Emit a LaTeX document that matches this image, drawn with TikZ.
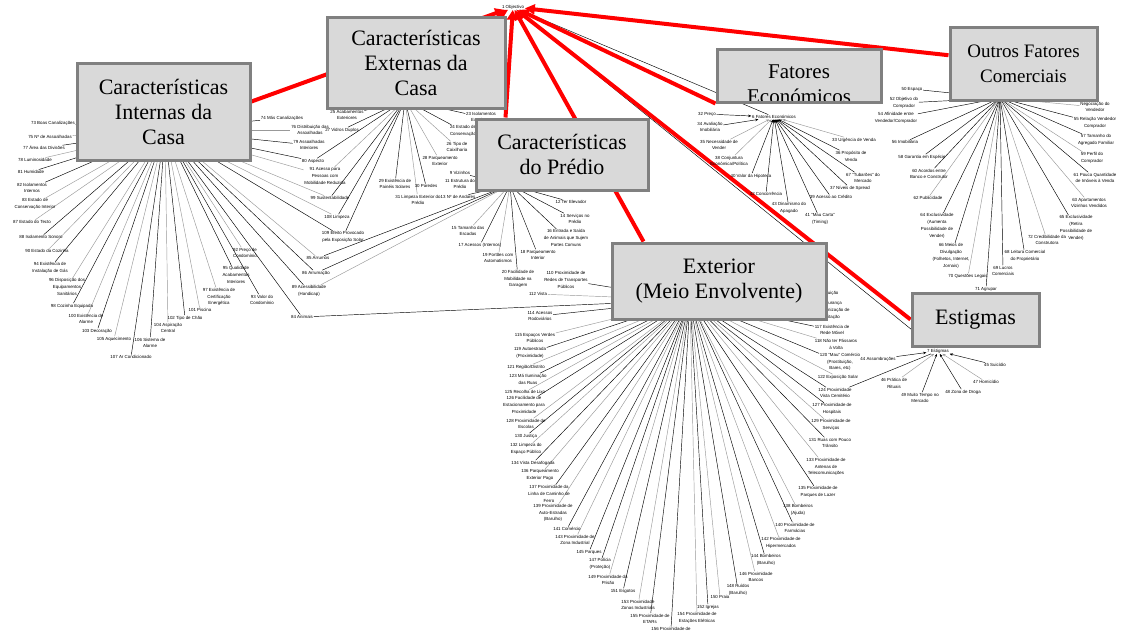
\documentclass[tikz,border=0pt]{standalone}
\usepackage{fontspec}
\setmainfont{Liberation Serif}
\newfontfamily\labfont{Liberation Sans}
\usetikzlibrary{arrows.meta,backgrounds}
\newcommand{\lbl}[6]{\node[lab] (#1) at (#2,#3) {#4};\begin{pgfonlayer}{background}\draw[#6] (#5) -- (#1);\end{pgfonlayer}}
\newcommand{\lk}[3]{\begin{pgfonlayer}{background}\draw[#3] (#1) -- (#2);\end{pgfonlayer}}
\begin{document}
\begin{tikzpicture}[x=1pt,y=-1pt,
 lab/.style={font=\labfont\fontsize{4.4}{6.8}\selectfont,align=center,inner sep=0.6pt},
 cb/.style={black,line width=0.45pt},
 cg/.style={black!40,line width=0.45pt},
 cba/.style={cb,{Stealth[length=3.2pt,width=2.6pt]}-},
 cga/.style={cg,{Stealth[length=3.2pt,width=2.6pt]}-},
 box/.style={draw=black!50,fill=black!15,line width=3pt,inner sep=0pt,align=center,font=\fontsize{22}{25}\selectfont},
 redl/.style={red,line width=4pt,-{Triangle[length=10pt,width=10pt]}},
]
\useasboundingbox (0,0) rectangle (1125,633);
\begin{pgfonlayer}{background}
\fill[white] (0,0) rectangle (1125,633);
\end{pgfonlayer}

% hubs
\node[lab] (O) at (513,7) {1 Objectivo};
\coordinate (HI) at (165,130);
\coordinate (HE) at (405,100);
\coordinate (HP) at (510,185);
\coordinate (HX) at (690,300);
\coordinate (HO) at (1000,98);
\node[lab] (HF) at (774,117) {6 Fatores Económicos};
\node[lab] (S) at (938,351) {7 Estigmas};

% Caracteristicas internas
\lbl{L73}{53}{123}{73 Boas Canalizações}{HI}{cb}
\lbl{L75}{50}{137}{75 Nº de Assoalhadas}{HI}{cg}
\lbl{L77}{44}{148}{77 Área das Divisões}{HI}{cb}
\lbl{L78}{35}{160}{78 Luminosidade}{HI}{cg}
\lbl{L81}{31}{172}{81 Humidade}{HI}{cb}
\lbl{L82}{32}{188}{82 Isolamentos\\Internos}{HI}{cb}
\lbl{L83}{35}{204}{83 Estado de\\Conservação Interior}{HI}{cg}
\lbl{L87}{32}{222}{87 Estado do Tecto}{HI}{cg}
\lbl{L88}{41}{237}{88 Isolamento Sonoro}{HI}{cb}
\lbl{L90}{47}{251}{90 Estado da Cozinha}{HI}{cg}
\lbl{L94}{50}{268}{94 Existência de\\Instalação de Gás}{HI}{cb}
\lbl{L96}{67}{287}{96 Disposição dos\\Equipamentos\\Sanitários}{HI}{cg}
\lbl{L98}{72}{306}{98 Cozinha Equipada}{HI}{cb}
\lbl{L100}{86}{319}{100 Existência de\\Alarme}{HI}{cg}
\lbl{L103}{97}{331}{103 Decoração}{HI}{cb}
\lbl{L105}{114}{339}{105 Aquecimento}{HI}{cg}
\lbl{L107}{131}{357}{107 Ar Condicionado}{HI}{cb}
\lbl{L106}{150}{343}{106 Sistema de\\Alarme}{HI}{cb}
\lbl{L104}{168}{328}{104 Aspiração\\Central}{HI}{cg}
\lbl{L102}{185}{318}{102 Tipo de Chão}{HI}{cb}
\lbl{L101}{200}{310}{101 Piscina}{HI}{cg}
\lbl{L97}{219}{297}{97 Existência de\\Certificação\\Energética}{HI}{cg}
\lbl{L95}{236}{275}{95 Qualidade\\Acabamentos\\Interiores}{HI}{cb}
\lbl{L92}{245}{253}{92 Preço de\\Condomínio}{HI}{cg}
\lbl{L93}{262}{300}{93 Valor do\\Condomínio}{HI}{cb}
\lbl{L74}{282}{118}{74 Más Canalizações}{HI}{cb}
\lbl{L76}{310}{130}{76 Distribuição das\\Assoalhadas}{HI}{cg}
\lbl{L79}{309}{145}{79 Assoalhadas\\Interiores}{HI}{cb}
\lbl{L80}{313}{161}{80 Aspecto}{HI}{cb}
\lbl{L91}{325}{176}{91 Acesso para\\Pessoas com\\Mobilidade Reduzida}{HI}{cg}
\lbl{L99}{330}{198}{99 Sustentabilidade}{HI}{cg}
\lbl{L108}{337}{217}{108 Limpeza}{HI}{cg}
\lbl{L109}{343}{237}{109 Efeito Provocado\\pela Exposição Solar}{HI}{cb}
\lbl{L85}{318}{258}{85 Arrumos}{HI}{cg}
\lbl{L86}{316}{273}{86 Arrumação}{HI}{cb}
\lbl{L89}{309}{291}{89 Acessibilidade\\(Handicap)}{HI}{cb}
\lbl{L84}{302}{317}{84 Animais}{HI}{cb}

% Caracteristicas externas
\lbl{L25}{347}{115}{25 Acabamentos\\Exteriores}{HE}{cb}
\lbl{L27}{342}{130}{27 Vidros Duplos}{HE}{cb}
\lbl{L29}{395}{184}{29 Existência de\\Painéis Solares}{HE}{cb}
\lbl{L30}{426}{186}{30 Paredes}{HE}{cb}
\lbl{L31}{418}{200}{31 Limpeza Exterior do\\Prédio}{HE}{cg}
\lbl{L28}{440}{161}{28 Parqueamento\\Exterior}{HE}{cg}
\lbl{L26}{457}{147}{26 Tipo de\\Caixilharia}{HE}{cg}
\lbl{L24}{463}{131}{24 Estado de\\Conservação}{HE}{cb}
\lbl{L23}{481}{117}{23 Isolamentos\\Exteriores}{HE}{cb}
\lk{HE}{L80}{cb}
\lk{HE}{L91}{cg}
\lk{HE}{L99}{cb}
\lk{HE}{L108}{cb}
\lk{HE}{L109}{cb}

% Caracteristicas do predio
\lbl{L9}{460}{173}{9 Vizinhos}{HP}{cb}
\lbl{L11}{460}{184}{11 Estrutura do\\Prédio}{HP}{cb}
\lbl{L13}{458}{197}{13 Nº de Andares}{HP}{cb}
\lbl{L12}{571}{202}{12 Ter Elevador}{HP}{cb}
\lbl{L14}{575}{219}{14 Serviços no\\Prédio}{HP}{cb}
\lbl{L16}{566}{238}{16 Entrada e Saída\\de Animais que Sujem\\Partes Comuns}{HP}{cb}
\lbl{L15}{468}{231}{15 Tamanho das\\Escadas}{HP}{cg}
\lbl{L17}{480}{245}{17 Acessos (Internos)}{HP}{cb}
\lbl{L19}{498}{258}{19 Portões com\\Automatismos}{HP}{cg}
\lbl{L18}{538}{255}{18 Parqueamento\\Interior}{HP}{cb}
\lbl{L20}{518}{279}{20 Facilidade de\\Mobilidade na\\Garagem}{HP}{cb}
\lk{HP}{L85}{cb}
\lk{HP}{L86}{cb}
\lk{HP}{L89}{cg}

% Exterior
\lbl{L110}{566}{280}{110 Proximidade de\\Redes de Transportes\\Públicos}{HX}{cb}
\lbl{L112}{538}{294}{112 Vista}{HX}{cg}
\lk{HX}{L84}{cb}
\lbl{L114}{540}{316}{114 Acessos\\Rodoviários}{HX}{cb}
\lbl{L115}{535}{338}{115 Espaços Verdes\\Públicos}{HX}{cg}
\lbl{L119}{530}{353}{119 Autoestrada\\(Proximidade)}{HX}{cb}
\lbl{L121}{526}{367}{121 Região/Distrito}{HX}{cg}
\lbl{L123}{528}{379}{123 Má Iluminação\\das Ruas}{HX}{cb}
\lbl{L125}{525}{392}{125 Recolha de Lixo}{HX}{cg}
\lbl{L126}{524}{405}{126 Facilidade de\\Estacionamento para\\Proximidade}{HX}{cb}
\lbl{L128}{526}{424}{128 Proximidade de\\Escolas}{HX}{cg}
\lbl{L130}{526}{436}{130 Justiça}{HX}{cb}
\lbl{L132}{526}{449}{132 Limpeza do\\Espaço Público}{HX}{cg}
\lbl{L134}{533}{463}{134 Vista Desafogada}{HX}{cb}
\lbl{L136}{540}{475}{136 Parqueamento\\Exterior Pago}{HX}{cg}
\lbl{L137}{549}{494}{137 Proximidade da\\Linha de Caminho de\\Ferro}{HX}{cb}
\lbl{L139}{553}{513}{139 Proximidade de\\Auto-Estradas\\(Barulho)}{HX}{cg}
\lbl{L141}{567}{529}{141 Comércio}{HX}{cb}
\lbl{L143}{575}{540}{143 Proximidade de\\Zona Industrial}{HX}{cg}
\lbl{L145}{589}{552}{145 Parques}{HX}{cb}
\lbl{L147}{600}{564}{147 Polícia\\(Proteção)}{HX}{cb}
\lbl{L149}{608}{580}{149 Proximidade da\\Prisão}{HX}{cg}
\lbl{L151}{623}{591}{151 Esgotos}{HX}{cb}
\lbl{L153}{638}{605}{153 Proximidade\\Zonas Industriais}{HX}{cg}
\lbl{L155}{650}{619}{155 Proximidade de\\ETARs}{HX}{cb}
\lbl{L156}{671}{629}{156 Proximidade de}{HX}{cb}
\lbl{L154}{697}{618}{154 Proximidade de\\Estações Elétricas}{HX}{cg}
\lbl{L152}{708}{607}{152 Igrejas}{HX}{cb}
\lbl{L150}{720}{597}{150 Praia}{HX}{cg}
\lbl{L148}{738}{590}{148 Ruídos\\(Barulho)}{HX}{cb}
\lbl{L146}{756}{577}{146 Proximidade\\Bancos}{HX}{cg}
\lbl{L144}{766}{560}{144 Bombeiros\\(Barulho)}{HX}{cb}
\lbl{L142}{781}{543}{142 Proximidade de\\Hipermercados}{HX}{cg}
\lbl{L140}{795}{528}{140 Proximidade de\\Farmácias}{HX}{cb}
\lbl{L138}{798}{510}{138 Bombeiros\\(Ajuda)}{HX}{cg}
\lbl{L135}{818}{492}{135 Proximidade de\\Parques de Lazer}{HX}{cb}
\lbl{L133}{826}{467}{133 Proximidade de\\Antenas de\\Telecomunicações}{HX}{cg}
\lbl{L131}{830}{443}{131 Ruas com Pouco\\Trânsito}{HX}{cb}
\lbl{L129}{831}{425}{129 Proximidade de\\Serviços}{HX}{cg}
\lbl{L127}{832}{409}{127 Proximidade de\\Hospitais}{HX}{cb}
\lbl{L124}{835}{393}{124 Proximidade\\Vista Cemitério}{HX}{cb}
\lbl{L122}{838}{377}{122 Exposição Solar}{HX}{cg}
\lbl{L120}{840}{362}{120 "Mau" Comércio\\(Prostituição,\\Bares, etc)}{HX}{cb}
\lbl{L118}{836}{344}{118 Não ter Pássaros\\à Volta}{HX}{cg}
\lbl{L117}{832}{330}{117 Existência de\\Rede Móvel}{HX}{cb}
\lbl{L116}{830}{314}{116 Urbanização de\\Habitação}{HX}{cg}
\lbl{L113}{827}{303}{113 Segurança}{HX}{cb}
\lbl{L111}{826}{293}{111 Poluição}{HX}{cg}

% Fatores economicos
\lbl{L32}{707}{114}{32 Preço}{HF}{cba}
\lbl{L34}{710}{127}{34 Avaliação\\Imobiliária}{HF}{cba}
\lbl{L35}{719}{145}{35 Necessidade de\\Vender}{HF}{cga}
\lbl{L38}{729}{161}{38 Conjuntura\\Económica/Política}{HF}{cga}
\lbl{L40}{751}{176}{40 Valor da Hipoteca}{HF}{cba}
\lbl{L42}{766}{194}{42 Concorrência}{HF}{cba}
\lbl{L43}{789}{208}{43 Dinamismo do\\Apagado}{HF}{cba}
\lbl{L41}{820}{219}{41 "Mau Carta"\\(Timing)}{HF}{cba}
\lbl{L39}{831}{197}{39 Acesso ao Crédito}{HF}{cba}
\lbl{L37}{850}{188}{37 Níveis de Spread}{HF}{cba}
\lbl{L67}{863}{178}{67 "Tubarões" do\\Mercado}{HF}{cba}
\lbl{L36}{851}{156}{36 Propósito de\\Venda}{HF}{cba}
\lbl{L33}{854}{140}{33 Urgência de Venda}{HF}{cga}

% Outros fatores comerciais
\lbl{L50}{912}{89}{50 Espaço}{HO}{cb}
\lbl{L52}{904}{103}{52 Objetivo do\\Comprador}{HO}{cb}
\lbl{L54}{896}{118}{54 Afinidade entre\\Vendedor/Comprador}{HO}{cb}
\lbl{L56}{905}{142}{56 Imobiliária}{HO}{cb}
\lbl{L58}{922}{157}{58 Garantia em Espécie}{HO}{cb}
\lbl{L60}{929}{174}{60 Acordos entre\\Banco e Construtor}{HO}{cb}
\lbl{L62}{928}{198}{62 Publicidade}{HO}{cg}
\lbl{L64}{937}{226}{64 Exclusividade\\(Aumenta\\Possibilidade de\\Vender)}{HO}{cb}
\lbl{L66}{951}{256}{66 Meios de\\Divulgação\\(Folhetos, Internet,\\Jornais)}{HO}{cb}
\lbl{L70}{968}{276}{70 Questões Legais}{HO}{cg}
\lbl{L71}{986}{289}{71 Agrupar}{HO}{cb}
\lbl{L69}{1003}{271}{69 Lucros\\Comerciais}{HO}{cb}
\lbl{L68}{1025}{256}{68 Leitura Comercial\\do Proprietário}{HO}{cb}
\lbl{L72}{1047}{240}{72 Credibilidade da\\Construtora}{HO}{cg}
\lbl{L65}{1076}{228}{65 Exclusividade\\(Retira\\Possibilidade de\\Vender)}{HO}{cb}
\lbl{L63}{1089}{203}{63 Apartamentos\\Vizinhos Vendidos}{HO}{cg}
\lbl{L61}{1095}{178}{61 Pouca Quantidade\\de Imóveis à Venda}{HO}{cb}
\lbl{L59}{1092}{158}{59 Perfil do\\Comprador}{HO}{cg}
\lbl{L57}{1096}{140}{57 Tamanho do\\Agregado Familiar}{HO}{cb}
\lbl{L55}{1095}{123}{55 Relação Vendedor\\Comprador}{HO}{cb}
\lbl{L53}{1095}{107}{Negociação do\\Vendedor}{HO}{cg}

% Estigmas
\lbl{L44}{878}{359}{44 Assombrações}{S}{cba}
\lbl{L45}{995}{365}{45 Suicídio}{S}{cba}
\lbl{L46}{894}{383}{46 Prática de\\Rituais}{S}{cga}
\lbl{L47}{986}{382}{47 Homicídio}{S}{cga}
\lbl{L49}{920}{398}{49 Muito Tempo no\\Mercado}{S}{cba}
\lbl{L48}{963}{392}{48 Zona de Droga}{S}{cba}
\lk{S}{L124}{cb}
\lk{O}{HF}{cb}
\lk{O}{S}{cb}

% main boxes
\node[box,minimum width=173,minimum height=97] (BI) at (163.5,111.5) {Características\\Internas da\\Casa};
\node[box,minimum width=178,minimum height=91] (BE) at (416,62.5) {Características\\Externas da\\Casa};
\node[box,minimum width=172,minimum height=71] (BP) at (562,154.5) {Características\\do Prédio};
\node[box,minimum width=164,minimum height=53,
  path picture={\node[font=\fontsize{21}{25}\selectfont,align=center] at ([yshift=-9pt]path picture bounding box.center) {Fatores\\Económicos};}] (BF) at (799,75.5) {};
\node[box,minimum width=147,minimum height=73,font=\fontsize{19}{25}\selectfont] (BO) at (1023.5,63.5) {Outros Fatores\\Comerciais};
\node[box,minimum width=214,minimum height=76] (BX) at (719,281) {Exterior\\(Meio Envolvente)};
\node[box,minimum width=127,minimum height=53] (BS) at (975.5,319.5) {Estigmas};

% red links to the objective
\begin{pgfonlayer}{background}
\draw[redl] ([yshift=10pt]BI.east) -- (O);
\draw[redl] (BE) -- (O);
\draw[redl] ([xshift=31pt]BP.north west) -- (O);
\draw[redl] ([xshift=33pt]BX.north west) -- (O);
\draw[redl] (BF.south west) -- (O);
\draw[redl] (BO) -- (O);
\draw[redl] (BS.west) -- (O);
\end{pgfonlayer}
\end{tikzpicture}
\end{document}
